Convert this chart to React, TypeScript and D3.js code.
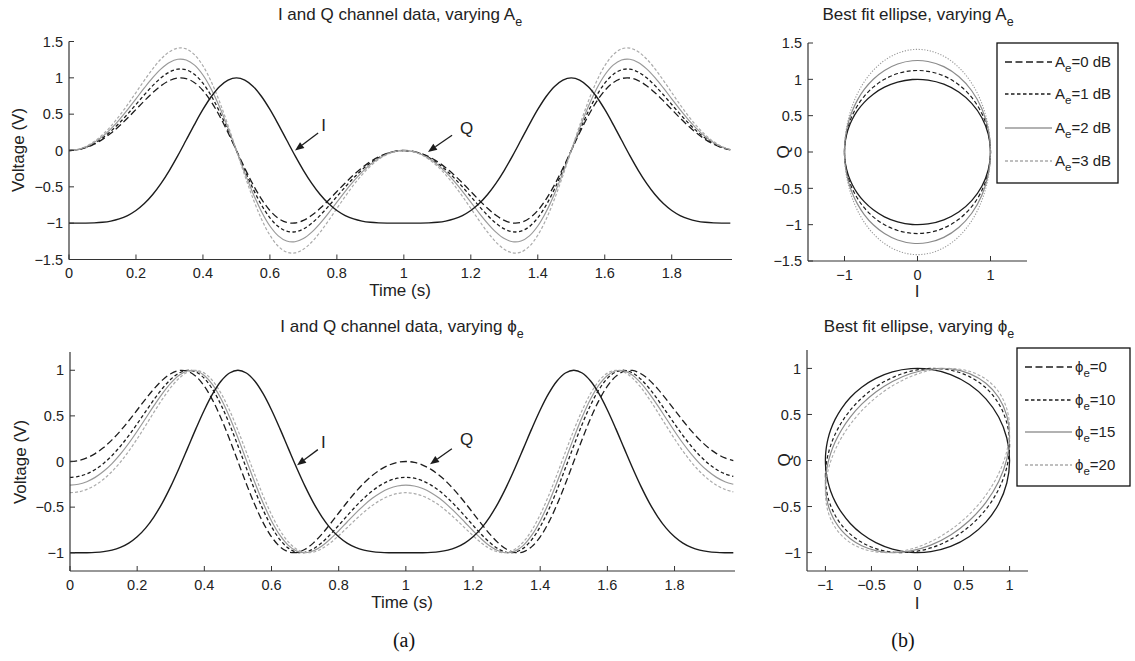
import React from "react";
import * as d3 from "d3";

// ---- data ----
const timeS = [
  0, 0.025, 0.05, 0.075, 0.1, 0.125, 0.15, 0.175, 0.2, 0.225, 0.25, 0.275, 0.3, 0.325, 0.35, 0.375, 0.4, 0.425, 0.45, 0.475,
  0.5, 0.525, 0.55, 0.575, 0.6, 0.625, 0.65, 0.675, 0.7, 0.725, 0.75, 0.775, 0.8, 0.825, 0.85, 0.875, 0.9, 0.925, 0.95, 0.975,
  1.0, 1.025, 1.05, 1.075, 1.1, 1.125, 1.15, 1.175, 1.2, 1.225, 1.25, 1.275, 1.3, 1.325, 1.35, 1.375, 1.4, 1.425, 1.45, 1.475,
  1.5, 1.525, 1.55, 1.575, 1.6, 1.625, 1.65, 1.675, 1.7, 1.725, 1.75, 1.775, 1.8, 1.825, 1.85, 1.875, 1.9, 1.925, 1.95, 1.975,
];
const iBase = [
  -1.0, -1.0, -0.9993, -0.9962, -0.9882, -0.9715, -0.9419, -0.8947, -0.8253, -0.7299, -0.6057, -0.4525, -0.2723, -0.0706, 0.144, 0.3603, 0.5646, 0.7429, 0.8817, 0.9698,
  1.0, 0.9698, 0.8817, 0.7429, 0.5646, 0.3603, 0.144, -0.0706, -0.2723, -0.4525, -0.6057, -0.7299, -0.8253, -0.8947, -0.9419, -0.9715, -0.9882, -0.9962, -0.9993, -1.0,
  -1.0, -1.0, -0.9993, -0.9962, -0.9882, -0.9715, -0.9419, -0.8947, -0.8253, -0.7299, -0.6057, -0.4525, -0.2723, -0.0706, 0.144, 0.3603, 0.5646, 0.7429, 0.8817, 0.9698,
  1.0, 0.9698, 0.8817, 0.7429, 0.5646, 0.3603, 0.144, -0.0706, -0.2723, -0.4525, -0.6057, -0.7299, -0.8253, -0.8947, -0.9419, -0.9715, -0.9882, -0.9962, -0.9993, -1.0,
];
const qBase = [
  0, 0.0097, 0.0387, 0.0867, 0.1532, 0.2369, 0.3358, 0.4466, 0.5646, 0.6836, 0.7957, 0.8918, 0.9622, 0.9975, 0.9896, 0.9329, 0.8253, 0.6694, 0.4719, 0.244,
  0, -0.244, -0.4719, -0.6694, -0.8253, -0.9329, -0.9896, -0.9975, -0.9622, -0.8918, -0.7957, -0.6836, -0.5646, -0.4466, -0.3358, -0.2369, -0.1532, -0.0867, -0.0387, -0.0097,
  0, -0.0097, -0.0387, -0.0867, -0.1532, -0.2369, -0.3358, -0.4466, -0.5646, -0.6836, -0.7957, -0.8918, -0.9622, -0.9975, -0.9896, -0.9329, -0.8253, -0.6694, -0.4719, -0.244,
  0, 0.244, 0.4719, 0.6694, 0.8253, 0.9329, 0.9896, 0.9975, 0.9622, 0.8918, 0.7957, 0.6836, 0.5646, 0.4466, 0.3358, 0.2369, 0.1532, 0.0867, 0.0387, 0.0097,
];
const aeDb = [0, 1, 2, 3];
const phiDeg = [0, 10, 15, 20];
const aeLabels = ["=0 dB", "=1 dB", "=2 dB", "=3 dB"];
const phiLabels = ["=0", "=10", "=15", "=20"];
const timeTicks = [0, 0.2, 0.4, 0.6, 0.8, 1, 1.2, 1.4, 1.6, 1.8];
const voltTicksTop = [-1.5, -1, -0.5, 0, 0.5, 1, 1.5];
const voltTicksBottom = [-1, -0.5, 0, 0.5, 1];
const ellXTicksTop = [-1, 0, 1];
const ellYTicksTop = [-1.5, -1, -0.5, 0, 0.5, 1, 1.5];
const ellXTicksBottom = [-1, -0.5, 0, 0.5, 1];
const ellYTicksBottom = [-1, -0.5, 0, 0.5, 1];
// annotation anchors in data units: [t, v]
const annTopI = { tip: [0.675, 0.0], tail: [0.744, 0.24], label: [0.753, 0.35] };
const annTopQ = { tip: [1.072, -0.02], tail: [1.144, 0.21], label: [1.168, 0.31] };
const annBotI = { tip: [0.676, -0.04], tail: [0.738, 0.13], label: [0.747, 0.21] };
const annBotQ = { tip: [1.072, -0.03], tail: [1.137, 0.14], label: [1.161, 0.25] };

// ---- derived series (legend parameters applied to I/Q read values) ----
const aeSeries = aeDb.map((db) => qBase.map((q) => q * Math.pow(10, db / 20)));
const phiSeries = phiDeg.map((d) => {
  const r = (d * Math.PI) / 180;
  return qBase.map((q, k) => q * Math.cos(r) + iBase[k] * Math.sin(r));
});
const ELL_N = 41; // t in [0, 1] -> one full turn

// ---- styles ----
const FONT = "'Liberation Sans', Arial, Helvetica, sans-serif";
const DARK = "#1c1c1c";
const AXIS = "#333";
const timeStyles = [
  { stroke: DARK, dash: "7,3.5", w: 1.3 },
  { stroke: DARK, dash: "3.5,2.5", w: 1.3 },
  { stroke: "#999", dash: undefined, w: 1.2 },
  { stroke: "#aaa", dash: "3,2", w: 1.2 },
];
const ellStylesTop = [
  { stroke: DARK, dash: undefined, w: 1.3 },
  { stroke: DARK, dash: "4,2.5", w: 1.2 },
  { stroke: "#8a8a8a", dash: undefined, w: 1.2 },
  { stroke: "#999", dash: "1.2,1.6", w: 1.1 },
];
const ellStylesBottom = [
  { stroke: DARK, dash: undefined, w: 1.3 },
  { stroke: DARK, dash: "3.5,2.5", w: 1.2 },
  { stroke: "#8a8a8a", dash: undefined, w: 1.2 },
  { stroke: "#aaa", dash: "3,2", w: 1.1 },
];

const fmt = (v: number) => (v < 0 ? "\u2212" : "") + String(Math.abs(v));

function Axes({ x, y, xTicks, yTicks }: any) {
  const [xl, xr] = x.range();
  const [yb, yt] = y.range();
  return (
    <g fontFamily={FONT} fontSize={14.5} fill="#222">
      <line x1={xl} x2={xr} y1={yb} y2={yb} stroke={AXIS} strokeWidth={1.2} />
      <line x1={xl} x2={xl} y1={yb} y2={yt} stroke={AXIS} strokeWidth={1.2} />
      {xTicks.map((v: number) => (
        <g key={"x" + v}>
          <line x1={x(v)} x2={x(v)} y1={yb} y2={yb - 5} stroke={AXIS} strokeWidth={1} />
          <text x={x(v)} y={yb + 18.5} textAnchor="middle">{fmt(v)}</text>
        </g>
      ))}
      {yTicks.map((v: number) => (
        <g key={"y" + v}>
          <line x1={xl} x2={xl + 5} y1={y(v)} y2={y(v)} stroke={AXIS} strokeWidth={1} />
          <text x={xl - 6} y={y(v)} dy="0.36em" textAnchor="end">{fmt(v)}</text>
        </g>
      ))}
    </g>
  );
}

function Arrow({ x, y, ann, label }: any) {
  const [tx, ty] = [x(ann.tip[0]), y(ann.tip[1])];
  const [sx, sy] = [x(ann.tail[0]), y(ann.tail[1])];
  const dx = tx - sx, dy = ty - sy;
  const len = Math.hypot(dx, dy);
  const ux = dx / len, uy = dy / len;
  const hl = 9, hw = 3.6;
  const bx = tx - ux * hl, by = ty - uy * hl;
  const pts = `${tx},${ty} ${bx - uy * hw},${by + ux * hw} ${bx + uy * hw},${by - ux * hw}`;
  return (
    <g>
      <line x1={sx} y1={sy} x2={bx} y2={by} stroke={DARK} strokeWidth={1.3} />
      <polygon points={pts} fill={DARK} />
      <text x={x(ann.label[0])} y={y(ann.label[1])} dy="0.36em" fontFamily={FONT} fontSize={17} fill="#222">{label}</text>
    </g>
  );
}

function Legend({ x0, x1, y0, y1, rows, symbol, labels, styles }: any) {
  return (
    <g fontFamily={FONT} fontSize={15} fill="#222">
      <rect x={x0} y={y0} width={x1 - x0} height={y1 - y0} fill="#fff" stroke="#111" strokeWidth={1.3} />
      {rows.map((ry: number, k: number) => (
        <g key={k}>
          <line x1={x0 + 8} x2={x0 + 55} y1={ry} y2={ry} stroke={styles[k].stroke} strokeDasharray={styles[k].dash} strokeWidth={1.3} />
          <text x={x0 + 58} y={ry} dy="0.36em">
            {symbol}
            <tspan dy={5} fontSize={11.5}>e</tspan>
            <tspan dy={-5}>{labels[k]}</tspan>
          </text>
        </g>
      ))}
    </g>
  );
}

export default function App() {
  // scales
  const xTL = d3.scaleLinear().domain([0, 1.98]).range([69, 732]);
  const yTL = d3.scaleLinear().domain([-1.5, 1.5]).range([259.5, 41.5]);
  const xTR = d3.scaleLinear().domain([-1.5, 1.5]).range([808, 1027]);
  const yTR = d3.scaleLinear().domain([-1.5, 1.5]).range([261, 43]);
  const xBL = d3.scaleLinear().domain([0, 1.98]).range([70, 735]);
  const yBL = d3.scaleLinear().domain([-1.2, 1.2]).range([571, 352]);
  const xBR = d3.scaleLinear().domain([-1.2, 1.2]).range([807, 1028]);
  const yBR = d3.scaleLinear().domain([-1.2, 1.2]).range([571, 350]);

  const timeLine = (xs: any, ys: any, vals: number[]) =>
    d3.line<number>().x((_, k) => xs(timeS[k])).y((v) => ys(v)).curve(d3.curveCatmullRom)(vals) as string;
  const ellLine = (xs: any, ys: any, vals: number[]) =>
    d3
      .line<number>()
      .x((_, k) => xs(iBase[k]))
      .y((v) => ys(v))
      .curve(d3.curveCatmullRom)(vals.slice(0, ELL_N)) as string;

  const title = (cx: number, cy: number, main: string, sym: string) => (
    <text x={cx} y={cy} textAnchor="middle" fontFamily={FONT} fontSize={17} fill="#222">
      {main}
      {sym}
      <tspan dy={6} fontSize={12.5}>e</tspan>
    </text>
  );

  return (
    <svg width={1135} height={661} style={{ position: "absolute", left: 0, top: 0, background: "#fff" }}>
      <rect x={0} y={0} width={1135} height={661} fill="#fff" />

      {/* top-left: varying Ae */}
      <g fill="none">
        {aeSeries.map((s, k) => (
          <path key={k} d={timeLine(xTL, yTL, s)} stroke={timeStyles[k].stroke} strokeDasharray={timeStyles[k].dash} strokeWidth={timeStyles[k].w} />
        ))}
        <path d={timeLine(xTL, yTL, iBase)} stroke={DARK} strokeWidth={1.4} />
      </g>
      <Axes x={xTL} y={yTL} xTicks={timeTicks} yTicks={voltTicksTop} />
      <Arrow x={xTL} y={yTL} ann={annTopI} label="I" />
      <Arrow x={xTL} y={yTL} ann={annTopQ} label="Q" />
      {title(400, 20, "I and Q channel data, varying ", "A")}
      <text x={400} y={296} textAnchor="middle" fontFamily={FONT} fontSize={17} fill="#222">Time (s)</text>
      <text transform="translate(24,150) rotate(-90)" textAnchor="middle" fontFamily={FONT} fontSize={17} fill="#222">Voltage (V)</text>

      {/* top-right: ellipse varying Ae */}
      <g fill="none">
        {aeSeries.map((s, k) => (
          <path key={k} d={ellLine(xTR, yTR, s)} stroke={ellStylesTop[k].stroke} strokeDasharray={ellStylesTop[k].dash} strokeWidth={ellStylesTop[k].w} />
        ))}
      </g>
      <Axes x={xTR} y={yTR} xTicks={ellXTicksTop} yTicks={ellYTicksTop} />
      {title(918, 20, "Best fit ellipse, varying ", "A")}
      <text x={917} y={297} textAnchor="middle" fontFamily={FONT} fontSize={17} fill="#222">I</text>
      <text transform="translate(789,152) rotate(-90)" textAnchor="middle" fontFamily={FONT} fontSize={17} fill="#222">Q</text>
      <Legend x0={997} x1={1118} y0={43} y1={183} rows={[62, 94, 128, 161]} symbol="A" labels={aeLabels} styles={timeStyles} />

      {/* bottom-left: varying phi */}
      <g fill="none">
        {phiSeries.map((s, k) => (
          <path key={k} d={timeLine(xBL, yBL, s)} stroke={timeStyles[k].stroke} strokeDasharray={timeStyles[k].dash} strokeWidth={timeStyles[k].w} />
        ))}
        <path d={timeLine(xBL, yBL, iBase)} stroke={DARK} strokeWidth={1.4} />
      </g>
      <Axes x={xBL} y={yBL} xTicks={timeTicks} yTicks={voltTicksBottom} />
      <Arrow x={xBL} y={yBL} ann={annBotI} label="I" />
      <Arrow x={xBL} y={yBL} ann={annBotQ} label="Q" />
      {title(402, 332, "I and Q channel data, varying ", "\u03d5")}
      <text x={402} y={608} textAnchor="middle" fontFamily={FONT} fontSize={17} fill="#222">Time (s)</text>
      <text transform="translate(26,462) rotate(-90)" textAnchor="middle" fontFamily={FONT} fontSize={17} fill="#222">Voltage (V)</text>

      {/* bottom-right: ellipse varying phi */}
      <g fill="none">
        {phiSeries.map((s, k) => (
          <path key={k} d={ellLine(xBR, yBR, s)} stroke={ellStylesBottom[k].stroke} strokeDasharray={ellStylesBottom[k].dash} strokeWidth={ellStylesBottom[k].w} />
        ))}
      </g>
      <Axes x={xBR} y={yBR} xTicks={ellXTicksBottom} yTicks={ellYTicksBottom} />
      {title(919, 332, "Best fit ellipse, varying ", "\u03d5")}
      <text x={917} y={609} textAnchor="middle" fontFamily={FONT} fontSize={17} fill="#222">I</text>
      <text transform="translate(790,460) rotate(-90)" textAnchor="middle" fontFamily={FONT} fontSize={17} fill="#222">Q</text>
      <Legend x0={1017} x1={1130} y0={348} y1={486} rows={[367, 400, 432, 465]} symbol={"\u03d5"} labels={phiLabels} styles={timeStyles} />

      {/* panel captions */}
      <text x={404} y={647} textAnchor="middle" fontFamily="'Liberation Serif', 'Times New Roman', serif" fontSize={20} fill="#111">(a)</text>
      <text x={903} y={647} textAnchor="middle" fontFamily="'Liberation Serif', 'Times New Roman', serif" fontSize={20} fill="#111">(b)</text>
    </svg>
  );
}
